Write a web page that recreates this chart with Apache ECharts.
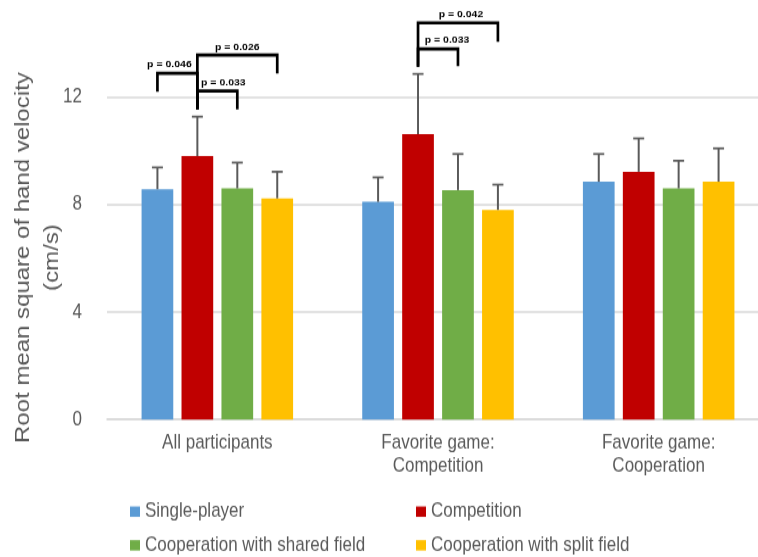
<!DOCTYPE html>
<html>
<head>
<meta charset="utf-8">
<title>Root mean square of hand velocity</title>
<script src="https://cdn.jsdelivr.net/npm/echarts@6/dist/echarts.min.js"></script>
<style>
  html, body { margin: 0; padding: 0; background: #fff; overflow: hidden; }
  #wrap { width: 758px; height: 557px; overflow: hidden; }
  /* the figure is drawn on a shorter canvas and stretched vertically */
  #chart { width: 758px; height: 457px; transform: scaleY(1.2188); transform-origin: 0 0; }
</style>
</head>
<body>
<div id="wrap"><div id="chart"></div></div>
<script>
// ---- data ----
const categories = ['All participants', 'Favorite game:\nCompetition', 'Favorite game:\nCooperation'];
const seriesNames = ['Single-player', 'Competition', 'Cooperation with shared field', 'Cooperation with split field'];

const singlePlayer   = [8.57, 8.10, 8.85];
const competition    = [9.80, 10.62, 9.22];
const sharedField    = [8.60, 8.54, 8.60];
const splitField     = [8.23, 7.80, 8.85];

// upper error (standard deviation)
const singlePlayerErr = [0.81, 0.91, 1.03];
const competitionErr  = [1.47, 2.24, 1.24];
const sharedFieldErr  = [0.96, 1.34, 1.03];
const splitFieldErr   = [0.99, 0.94, 1.24];

const yTicks = [0, 4, 8, 12];

// significance brackets: category, pair of conditions, p-value text
const pLabels = ['p = 0.046', 'p = 0.026', 'p = 0.033', 'p = 0.042', 'p = 0.033'];
const bracketPairs = [[0, 0, 1], [0, 1, 3], [0, 1, 2], [1, 1, 3], [1, 1, 2]];
// bracket heights (axis units): bar line, left end, right end, label
const bracketLevels = [
  [12.88, 12.20, 11.54, 13.19],
  [13.56, 11.54, 12.88, 13.87],
  [12.23, 11.54, 11.54, 12.53],
  [14.76, 13.13, 14.06, 15.05],
  [13.79, 13.13, 13.15, 14.12]
];
const labelShift = [-8, 0, 6, 3, 9];

// ---- styles ----
const colors = ['#5B9BD5', '#C00000', '#70AD47', '#FFC000'];
const TEXT = '#595959';
const FONT = '"Liberation Sans", Arial, sans-serif';
const BAR_W = 31.7;
const BAR_STEP = 39.94;   // bar width + gap

const means = [singlePlayer, competition, sharedField, splitField];
const errs = [singlePlayerErr, competitionErr, sharedFieldErr, splitFieldErr];

const chart = echarts.init(document.getElementById('chart'), null, { renderer: 'canvas' });

function barX(api, cat, s) {
  return api.coord([cat, 0])[0] + (s - 1.5) * BAR_STEP;
}

const barSeries = seriesNames.map((name, i) => ({
  name: name,
  type: 'bar',
  data: means[i],
  barWidth: BAR_W,
  barGap: '26%',
  itemStyle: { color: colors[i] },
  z: 2
}));

// error bars drawn above each bar
const errData = [];
means.forEach((m, s) => m.forEach((v, c) => errData.push([c, v, v + errs[s][c], s])));
const errSeries = {
  type: 'custom',
  data: errData,
  encode: { x: 0, y: [1, 2] },
  z: 3,
  renderItem: function (params, api) {
    const c = api.value(0), s = api.value(3);
    const x = barX(api, c, s);
    const y1 = api.coord([c, api.value(1)])[1];
    const y2 = api.coord([c, api.value(2)])[1];
    return {
      type: 'group',
      children: [
        { type: 'line', shape: { x1: x, y1: y1, x2: x, y2: y2 }, style: { stroke: '#5A5A5A', lineWidth: 2 } },
        { type: 'line', shape: { x1: x - 5.5, y1: y2, x2: x + 5.5, y2: y2 }, style: { stroke: '#5A5A5A', lineWidth: 1.7 } }
      ]
    };
  }
};

// significance brackets with p-value labels
const bracketSeries = {
  type: 'custom',
  data: bracketPairs.map((b, i) => [b[0], bracketLevels[i][0]]),
  z: 4,
  silent: true,
  renderItem: function (params, api) {
    const i = params.dataIndex;
    const [cat, a, b] = bracketPairs[i];
    const [top, endA, endB, labY] = bracketLevels[i];
    const xa = barX(api, cat, a), xb = barX(api, cat, b);
    const y = v => api.coord([cat, v])[1];
    return {
      type: 'group',
      children: [
        {
          type: 'polyline',
          shape: { points: [[xa, y(endA)], [xa, y(top)], [xb, y(top)], [xb, y(endB)]] },
          style: { stroke: '#000', lineWidth: 2.7, fill: null, lineJoin: 'miter' }
        },
        {
          type: 'text',
          x: (xa + xb) / 2 + labelShift[i],
          y: y(labY),
          scaleY: 0.74,
          style: {
            text: pLabels[i], fill: '#000', font: 'bold 10.5px ' + FONT,
            align: 'center', verticalAlign: 'middle'
          }
        }
      ]
    };
  }
};

// one legend entry per slot: two columns, two rows
const legendSlots = [[130, 409.8], [416, 409.8], [130, 437.4], [416, 437.4]];
const legends = seriesNames.map((name, i) => ({
  left: legendSlots[i][0],
  top: legendSlots[i][1],
  icon: 'rect',
  itemWidth: 10,
  itemHeight: 8.5,
  selectedMode: false,
  padding: 0,
  textStyle: { color: TEXT, fontSize: 17, fontFamily: FONT, lineHeight: 20 },
  data: [name]
}));

chart.setOption({
  animation: false,
  color: colors,
  grid: { left: 107, top: -8.6, width: 662, height: 352.8, containLabel: false, outerBoundsMode: 'none' },
  legend: legends,
  xAxis: {
    type: 'category',
    data: categories,
    axisLine: { lineStyle: { color: '#D9D9D9', width: 1.6 } },
    axisTick: { show: false },
    axisLabel: { color: TEXT, fontSize: 17, fontFamily: FONT, lineHeight: 19, margin: 9.5, interval: 0 }
  },
  yAxis: {
    type: 'value',
    min: 0,
    max: 16,
    interval: 4,
    axisLine: { show: false },
    axisTick: { show: false },
    splitLine: { lineStyle: { color: '#D9D9D9', width: 1.6 } },
    axisLabel: {
      color: TEXT, fontSize: 17, fontFamily: FONT, margin: 25,
      formatter: v => (yTicks.indexOf(v) >= 0 ? String(v) : '')
    }
  },
  graphic: [{
    type: 'text',
    x: 38,
    y: 211.3,
    rotation: Math.PI / 2,
    style: {
      text: 'Root mean square of hand velocity\n(cm/s)',
      fill: TEXT, font: '19.7px ' + FONT, lineHeight: 29,
      align: 'center', verticalAlign: 'middle'
    }
  }],
  series: barSeries.concat([errSeries, bracketSeries])
});
</script>
</body>
</html>
